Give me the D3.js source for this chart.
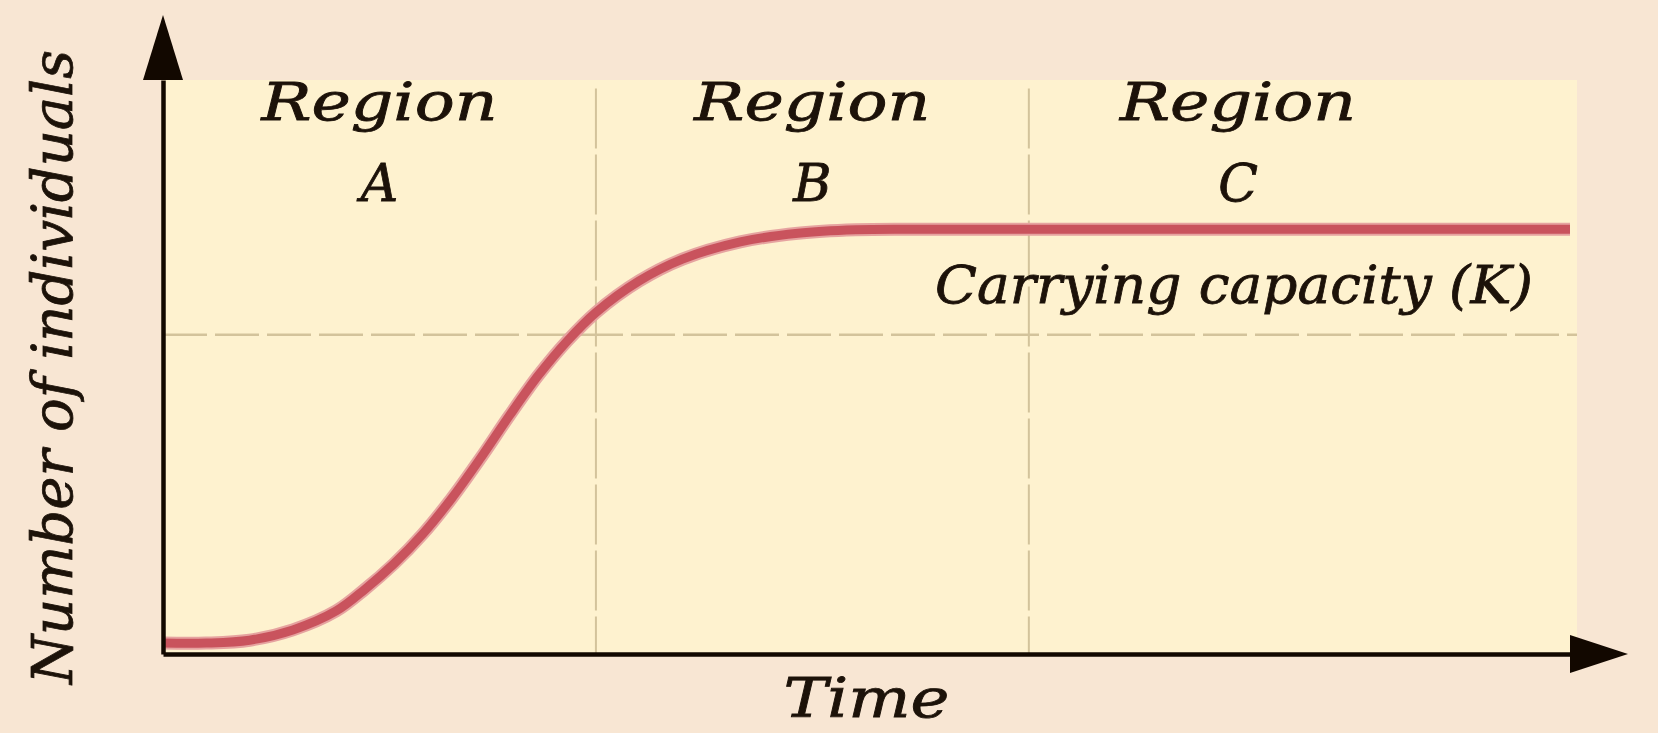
<!DOCTYPE html>
<html>
<head>
<meta charset="utf-8">
<script src="https://cdn.jsdelivr.net/npm/d3@7"></script>
<style>
  html, body { margin: 0; padding: 0; background: #f8e6d3; }
  svg { display: block; }
</style>
</head>
<body>
<svg id="chart" width="1658" height="733"></svg>
<script>
// Logistic population growth: time vs number of individuals
const times       = [0, 3, 6, 9, 12, 14, 16, 18, 20, 22, 24, 26, 28, 30, 33, 36, 40, 44, 48, 52, 70, 97.5];
const individuals = [19, 19, 24, 42, 75, 113, 157, 209, 271, 341, 415, 485, 545, 595, 650, 688, 718, 733, 739, 740, 740, 740];
const carryingCapacity = 740;
const halfLine = 556;
const regionNames = ["A", "B", "C"];
const regionBounds = [30, 60];
const regionLabelTimes = [15, 45, 74.5];

const svg = d3.select("#chart");
const W = 1658, H = 733;

const x = d3.scaleLinear().domain([0, 97.5]).range([163, 1570]);
const y = d3.scaleLinear().domain([0, 1000]).range([654, 80]);

const ink = "#1c1209";
const font = "'DejaVu Serif', serif";

// page background
svg.append("rect").attr("width", W).attr("height", H).attr("fill", "#f8e6d3");

// plot area
svg.append("rect")
  .attr("x", x(0)).attr("y", y(1000))
  .attr("width", x(97.5) + 7 - x(0)).attr("height", y(0) - y(1000))
  .attr("fill", "#fef2cf");

// region dividers
svg.append("g").selectAll("line").data(regionBounds).join("line")
  .attr("x1", d => x(d)).attr("x2", d => x(d))
  .attr("y1", y(985)).attr("y2", y(0))
  .attr("stroke", "#d3c39b").attr("stroke-width", 2)
  .attr("stroke-dasharray", "60,6");

// dashed reference line
svg.append("line")
  .attr("x1", x(0)).attr("x2", x(97.5) + 7)
  .attr("y1", y(halfLine)).attr("y2", y(halfLine))
  .attr("stroke", "#d3c39b").attr("stroke-width", 2.5)
  .attr("stroke-dasharray", "44,8");

// population curve
const pts = times.map((t, i) => [t, individuals[i]]);
const line = d3.line().x(d => x(d[0])).y(d => y(d[1])).curve(d3.curveCatmullRom.alpha(0.5));
svg.append("path").datum(pts)
  .attr("d", line).attr("fill", "none")
  .attr("stroke", "#e6a3a0").attr("stroke-width", 13);
svg.append("path").datum(pts)
  .attr("d", line).attr("fill", "none")
  .attr("stroke", "#c9535d").attr("stroke-width", 9);

// axes (domain lines only)
const xAxis = svg.append("g").attr("transform", `translate(0,${y(0)})`)
  .call(d3.axisBottom(x).tickValues([]).tickSizeOuter(0));
const yAxis = svg.append("g").attr("transform", `translate(${x(0)},0)`)
  .call(d3.axisLeft(y).tickValues([]).tickSizeOuter(0));
[xAxis, yAxis].forEach(g => g.select(".domain").attr("stroke", "#120800").attr("stroke-width", 4.5));

// arrow heads
const x0 = x(0), yTop = y(1000), yBase = y(0), xEnd = x(97.5);
svg.append("path")
  .attr("d", `M${x0},${yTop - 65} L${x0 - 20},${yTop} L${x0 + 20},${yTop} Z`)
  .attr("fill", "#120800");
svg.append("path")
  .attr("d", `M${xEnd + 58},${yBase} L${xEnd},${yBase - 19} L${xEnd},${yBase + 19} Z`)
  .attr("fill", "#120800");

// shared text styling
const styleText = sel => sel
  .attr("font-family", font).attr("font-style", "italic")
  .attr("fill", ink).attr("stroke", ink).attr("stroke-width", 0.8);

// region labels
const rl = svg.append("g").call(styleText).attr("text-anchor", "middle");
rl.selectAll("text.word").data(regionNames).join("text").attr("class", "word")
  .attr("x", (d, i) => x(regionLabelTimes[i])).attr("y", 120)
  .attr("font-size", 52)
  .attr("textLength", 236).attr("lengthAdjust", "spacingAndGlyphs")
  .text("Region");
rl.selectAll("text.letter").data(regionNames).join("text").attr("class", "letter")
  .attr("x", (d, i) => x(regionLabelTimes[i])).attr("y", 201)
  .attr("font-size", 52)
  .text(d => d);

// carrying capacity label
svg.append("text").call(styleText)
  .attr("x", 935).attr("y", y(carryingCapacity) + 74)
  .attr("font-size", 52)
  .attr("textLength", 598).attr("lengthAdjust", "spacingAndGlyphs")
  .text("Carrying capacity (K)");

// axis titles
svg.append("text").call(styleText)
  .attr("x", (x(0) + x(97.5)) / 2).attr("y", 717)
  .attr("text-anchor", "middle")
  .attr("font-size", 54)
  .attr("textLength", 166).attr("lengthAdjust", "spacingAndGlyphs")
  .text("Time");

svg.append("text").call(styleText)
  .attr("transform", `translate(72,${(y(0) + y(1000)) / 2}) rotate(-90)`)
  .attr("text-anchor", "middle")
  .attr("font-size", 56)
  .attr("textLength", 634).attr("lengthAdjust", "spacingAndGlyphs")
  .text("Number of individuals");
</script>
</body>
</html>
